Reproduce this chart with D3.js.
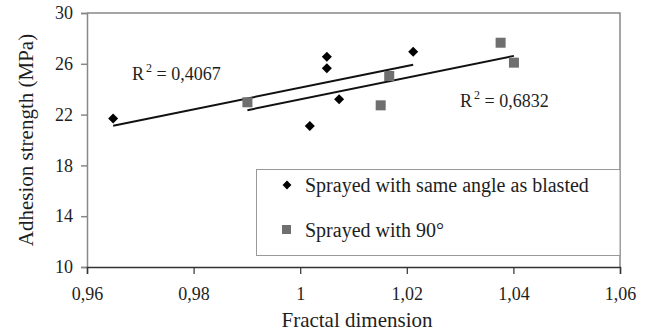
<!DOCTYPE html>
<html>
<head>
<meta charset="utf-8">
<script src="https://cdn.jsdelivr.net/npm/d3@7"></script>
<style>
  body { margin: 0; background: #fff; }
  svg { display: block; font-family: "Liberation Serif", "Times New Roman", serif; }
</style>
</head>
<body>
<svg id="chart" width="649" height="333"></svg>
<script>
// Fractal dimension vs adhesion strength, two spraying conditions
const sameAngleX = [0.9649, 1.0018, 1.0050, 1.0050, 1.0073, 1.0212];
const sameAngleY = [21.7, 21.1, 26.55, 25.65, 23.2, 26.95];
const ninetyX = [0.9901, 1.0151, 1.0167, 1.0376, 1.0401];
const ninetyY = [22.97, 22.73, 25.04, 27.66, 26.09];
const xTicks = [0.96, 0.98, 1.00, 1.02, 1.04, 1.06];
const yTicks = [10, 14, 18, 22, 26, 30];
const seriesNames = ["Sprayed with same angle as blasted", "Sprayed with 90°"];
const r2Labels = ["0,4067", "0,6832"];

const svg = d3.select("#chart");
const plot = { left: 87, right: 620, top: 13, bottom: 267 };
const ink = "#1e1e1e";

const x = d3.scaleLinear().domain([0.96, 1.06]).range([plot.left, plot.right]);
const y = d3.scaleLinear().domain([10, 30]).range([plot.bottom, plot.top]);

const fmtX = v => (Math.abs(v - 1) < 1e-9 ? "1" : d3.format(".2f")(v).replace(".", ","));

// plot frame (top and right edges)
svg.append("path")
  .attr("d", `M${plot.left},${plot.top}H${plot.right}V${plot.bottom}`)
  .attr("fill", "none").attr("stroke", "#888").attr("stroke-width", 1.5);

// axes
const yAxis = svg.append("g").attr("transform", `translate(${plot.left},0)`)
  .call(d3.axisLeft(y).tickValues(yTicks).tickSize(6).tickPadding(8));
yAxis.select(".domain").attr("stroke", "#888").attr("stroke-width", 1.5);
yAxis.selectAll(".tick line").attr("stroke", "#888").attr("stroke-width", 1.5);
yAxis.selectAll("text").attr("font-size", 18).attr("fill", ink)
  .attr("font-family", "Liberation Serif");

const xAxis = svg.append("g").attr("transform", `translate(0,${plot.bottom})`)
  .call(d3.axisBottom(x).tickValues(xTicks).tickFormat(fmtX).tickSize(7).tickPadding(13));
xAxis.select(".domain").attr("stroke", "#333").attr("stroke-width", 1.5);
xAxis.selectAll(".tick line").attr("stroke", "#333").attr("stroke-width", 1.2);
xAxis.selectAll("text").attr("font-size", 18).attr("fill", ink)
  .attr("font-family", "Liberation Serif");

// axis titles
svg.append("text").attr("x", 357).attr("y", 327)
  .attr("text-anchor", "middle").attr("font-size", 21).attr("fill", ink)
  .text("Fractal dimension");
svg.append("text").attr("transform", `translate(33,140) rotate(-90)`)
  .attr("text-anchor", "middle").attr("font-size", 21).attr("fill", ink)
  .text("Adhesion strength (MPa)");

// least-squares trend line across the range of the series
function fit(xs, ys) {
  const mx = d3.mean(xs), my = d3.mean(ys);
  let sxy = 0, sxx = 0;
  xs.forEach((v, i) => { sxy += (v - mx) * (ys[i] - my); sxx += (v - mx) ** 2; });
  const b = sxy / sxx, a = my - b * mx;
  const [x0, x1] = d3.extent(xs);
  return [[x0, a + b * x0], [x1, a + b * x1]];
}
const line = d3.line().x(d => x(d[0])).y(d => y(d[1]));
[[sameAngleX, sameAngleY], [ninetyX, ninetyY]].forEach(([xs, ys]) => {
  svg.append("path").attr("d", line(fit(xs, ys)))
    .attr("fill", "none").attr("stroke", "#111").attr("stroke-width", 2);
});

// markers
const diamond = d3.symbol().type(d3.symbolDiamond2).size(64);
svg.append("g").selectAll("path").data(d3.zip(sameAngleX, sameAngleY)).join("path")
  .attr("d", diamond)
  .attr("transform", d => `translate(${x(d[0])},${y(d[1])})`)
  .attr("fill", "#000");
const sq = 10;
svg.append("g").selectAll("rect").data(d3.zip(ninetyX, ninetyY)).join("rect")
  .attr("x", d => x(d[0]) - sq / 2).attr("y", d => y(d[1]) - sq / 2)
  .attr("width", sq).attr("height", sq).attr("fill", "#6f6f6f");

// R² labels
function r2(label, px, py) {
  const t = svg.append("text").attr("x", px).attr("y", py)
    .attr("font-size", 18).attr("fill", ink);
  t.append("tspan").text("R");
  t.append("tspan").attr("dx", 2).attr("dy", -8).attr("font-size", 12).text("2");
  t.append("tspan").attr("dy", 8).text(" = " + label);
}
r2(r2Labels[0], 132, 80);
r2(r2Labels[1], 460, 107);

// legend
const lg = svg.append("g");
lg.append("rect").attr("x", 256.5).attr("y", 169.5).attr("width", 363.5).attr("height", 86)
  .attr("fill", "#fff").attr("stroke", "#999").attr("stroke-width", 1);
lg.append("path").attr("d", d3.symbol().type(d3.symbolDiamond2).size(50))
  .attr("transform", "translate(287,185)").attr("fill", "#000");
lg.append("rect").attr("x", 282).attr("y", 225).attr("width", 9).attr("height", 9).attr("fill", "#6f6f6f");
lg.append("text").attr("x", 305).attr("y", 192).attr("font-size", 20).attr("fill", ink).text(seriesNames[0]);
lg.append("text").attr("x", 305).attr("y", 237).attr("font-size", 20).attr("fill", ink).text(seriesNames[1]);
</script>
</body>
</html>
